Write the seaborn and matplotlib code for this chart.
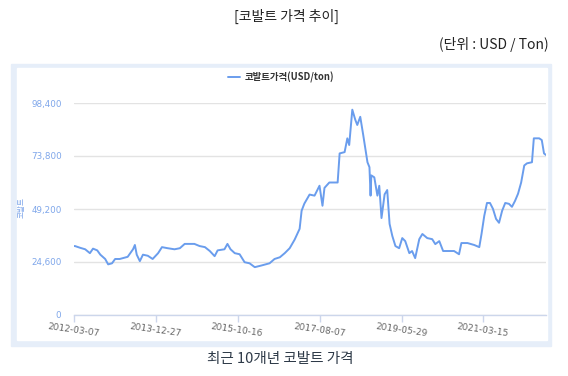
import pandas as pd
import seaborn as sns
import matplotlib.pyplot as plt
import matplotlib.dates as mdates
from matplotlib.patches import Rectangle
from matplotlib.ticker import FuncFormatter

# cobalt price (USD/ton)
dates = [
    "2012-03-07", "2012-03-15", "2012-04-25", "2012-06-05", "2012-07-13", "2012-08-07",
    "2012-09-10", "2012-10-05", "2012-11-13", "2012-12-07", "2013-01-07", "2013-02-01",
    "2013-03-10", "2013-05-13", "2013-06-25", "2013-07-10", "2013-07-25", "2013-08-19",
    "2013-09-13", "2013-10-22", "2013-11-30", "2014-01-13", "2014-02-13", "2014-03-31",
    "2014-05-25", "2014-07-07", "2014-08-15", "2014-11-01", "2014-12-13", "2015-01-25",
    "2015-03-05", "2015-04-13", "2015-05-07", "2015-07-01", "2015-07-25", "2015-08-19",
    "2015-09-22", "2015-10-31", "2015-12-10", "2016-01-19", "2016-03-01", "2016-04-25",
    "2016-06-28", "2016-08-07", "2016-09-19", "2016-10-28", "2016-12-07", "2017-01-16",
    "2017-02-25", "2017-03-13", "2017-04-04", "2017-05-16", "2017-06-25", "2017-08-04",
    "2017-08-28", "2017-09-13", "2017-10-22", "2017-12-28", "2018-01-13", "2018-02-22",
    "2018-03-16", "2018-03-31", "2018-04-25", "2018-05-19", "2018-06-04", "2018-06-28",
    "2018-07-22", "2018-08-25", "2018-09-10", "2018-09-19", "2018-09-25", "2018-10-19",
    "2018-11-13", "2018-11-28", "2018-12-16", "2019-01-10", "2019-01-31", "2019-02-19",
    "2019-03-13", "2019-04-07", "2019-05-07", "2019-06-01", "2019-06-25", "2019-07-28",
    "2019-08-19", "2019-09-13", "2019-10-16", "2019-11-10", "2019-12-19", "2020-01-28",
    "2020-02-22", "2020-03-25", "2020-04-25", "2020-07-22", "2020-08-31", "2020-09-19",
    "2020-11-07", "2020-12-31", "2021-02-10", "2021-02-28", "2021-03-22", "2021-04-13",
    "2021-05-07", "2021-05-31", "2021-06-25", "2021-07-19", "2021-08-13", "2021-09-07",
    "2021-10-07", "2021-10-31", "2021-11-25", "2021-12-19", "2022-01-13", "2022-02-07",
    "2022-03-01", "2022-04-10", "2022-04-25", "2022-06-07", "2022-06-28", "2022-07-16",
    "2022-07-31",
]
prices = [
    32000, 32000, 31200, 30500, 28700, 30800,
    30000, 28000, 26000, 23500, 24000, 26000,
    26000, 27000, 30500, 32500, 28000, 25000,
    28000, 27500, 26000, 28700, 31500, 31000,
    30500, 31000, 33000, 33000, 32000, 31500,
    29700, 27300, 30000, 30500, 33000, 30500,
    28700, 28200, 24500, 24000, 22200, 23000,
    24000, 26000, 26800, 28700, 31000, 35000,
    40000, 48400, 51700, 55900, 55400, 60000,
    50700, 59000, 61500, 61500, 75000, 75600,
    82000, 78900, 95300, 90600, 88200, 92000,
    83500, 70900, 68600, 55400, 64800, 63900,
    55400, 60000, 45000, 56000, 58000, 42300,
    36700, 32000, 31000, 35700, 34300, 28700,
    29700, 26400, 35200, 37600, 35700, 35200,
    32900, 34300, 29700, 29700, 28200, 33400,
    33400, 32500, 31500, 37600, 46000, 52000,
    52000, 49300, 44600, 42800, 48400, 52000,
    51600, 50200, 53000, 56300, 61500, 69400,
    70400, 70900, 82000, 82000, 81200, 75000,
    74300,
]
tick_dates = ["2012-03-07", "2013-12-27", "2015-10-16", "2017-08-07", "2019-05-29", "2021-03-15"]
y_ticks = [0, 24600, 49200, 73800, 98400]

df = pd.DataFrame({"date": pd.to_datetime(dates), "price": prices})

sns.set_theme(style="white")
plt.rcParams["font.family"] = ["Noto Sans CJK KR", "DejaVu Sans"]

W, H = 568, 376
fig = plt.figure(figsize=(W / 100, H / 100), dpi=100)


def box(x0, y0, x1, y1):
    # pixel box (top-left origin) -> figure fractions
    return (x0 / W, 1 - y1 / H, (x1 - x0) / W, (y1 - y0) / H)


# light blue frame around the chart panel
l, b, w, h = box(11, 64, 551, 346)
fig.add_artist(Rectangle((l, b), w, h, transform=fig.transFigure, color="#e6eef9", zorder=-3))
l, b, w, h = box(17, 68, 547, 340)
fig.add_artist(Rectangle((l, b), w, h, transform=fig.transFigure, color="white", zorder=-2))

ax = fig.add_axes(box(74, 103, 546, 315))
ax.set_facecolor("none")

sns.lineplot(data=df, x="date", y="price", ax=ax, color="#6a9ded", linewidth=1.4,
             label="코발트가격(USD/ton)")

ax.set_ylim(0, 98400)
ax.set_xlim(pd.Timestamp("2012-03-07"), pd.Timestamp("2022-08-01"))
ax.set_yticks(y_ticks)
ax.yaxis.set_major_formatter(FuncFormatter(lambda v, p: f"{int(v):,}"))
ax.set_xticks(pd.to_datetime(tick_dates))
ax.xaxis.set_major_formatter(mdates.DateFormatter("%Y-%m-%d"))
ax.set_xlabel("")
ax.set_ylabel("")

ax.grid(axis="y", color="#e3e3e3", linewidth=1)
ax.set_axisbelow(True)
for s in ["top", "right", "left"]:
    ax.spines[s].set_visible(False)
ax.spines["bottom"].set_color("#ccd6eb")
ax.spines["bottom"].set_linewidth(1)

ax.tick_params(axis="y", length=0, pad=9, labelsize=6.3, labelcolor="#7ea6ea")
ax.tick_params(axis="x", bottom=True, length=5, width=1, color="#ccd6eb", direction="out",
               pad=3, labelsize=6.5, labelcolor="#666666")
for t in ax.get_xticklabels():
    t.set_rotation(-8)
    t.set_ha("center")
    t.set_rotation_mode("anchor")
    t.set_family("DejaVu Sans")
for t in ax.get_yticklabels():
    t.set_family("DejaVu Sans")

leg = ax.legend(loc="center", bbox_to_anchor=(281 / W, 1 - 77 / H), bbox_transform=fig.transFigure,
                frameon=False, fontsize=6.8, handlelength=1.3, handletextpad=0.5)
for txt in leg.get_texts():
    txt.set_color("#333333")
    txt.set_fontweight("bold")

fig.text(22 / W, 1 - 208 / H, "코발트", rotation=90, ha="center", va="center",
         fontsize=5.5, color="#7ea6ea")

fig.text(286 / W, 1 - 16 / H, "[코발트 가격 추이]", ha="center", va="center",
         fontsize=10, color="#222222")
fig.text(549 / W, 1 - 45 / H, "(단위 : USD / Ton)", ha="right", va="center",
         fontsize=10, color="#222222")
fig.text(280 / W, 1 - 359 / H, "최근 10개년 코발트 가격", ha="center", va="center",
         fontsize=10.5, color="#2e3a48")

fig.savefig("out.png", dpi=100)
